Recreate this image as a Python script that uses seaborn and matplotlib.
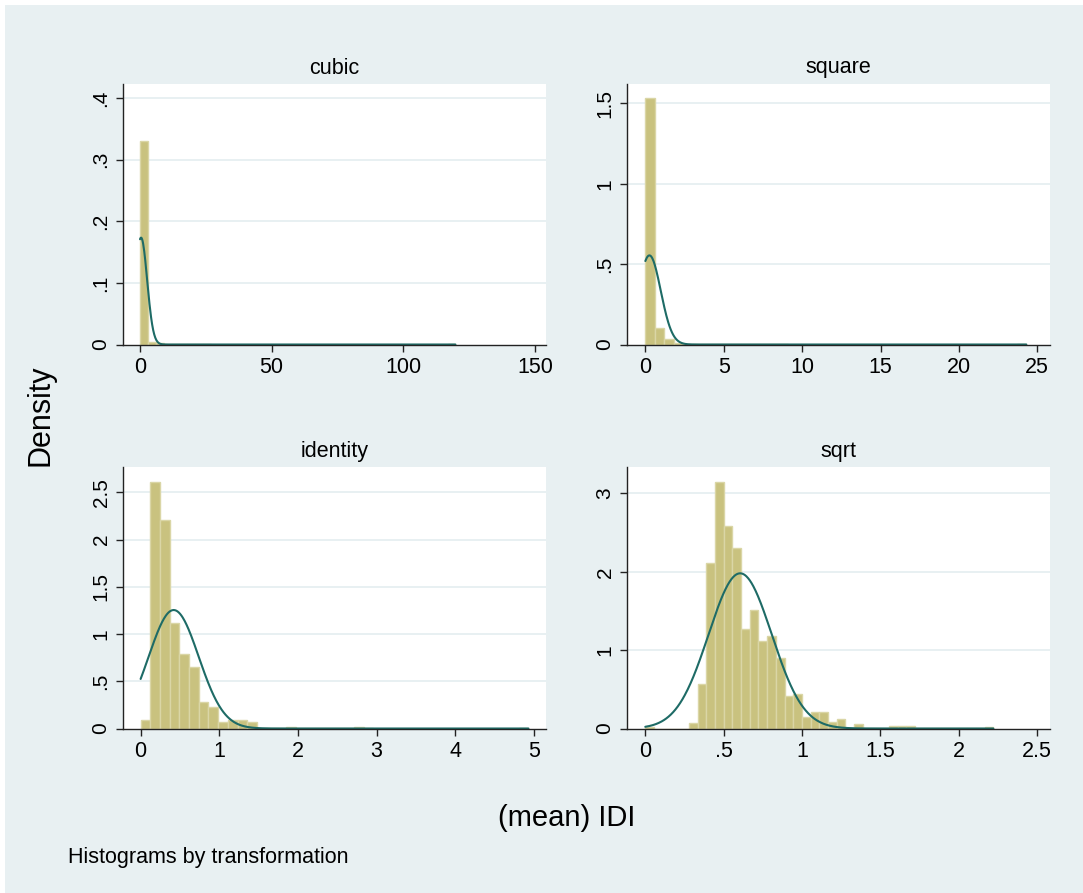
import numpy as np
import pandas as pd
import matplotlib
matplotlib.use("Agg")
import matplotlib.pyplot as plt
import matplotlib.ticker as mticker
import seaborn as sns

# ---------------------------------------------------------------------------
# Data (40 bins per transformation, density scale)
# ---------------------------------------------------------------------------
panels = ["cubic", "square", "identity", "sqrt"]

cubic_range = (0.0, 119.8)
cubic_heights = [0.330, 0.004, 0.002, 0.001, 0.001, 0.001, 0.001, 0.001, 0.001] + [0.0] * 30 + [0.001]

square_range = (0.0, 24.3)
square_heights = [1.531, 0.0996, 0.035, 0.012, 0.005, 0.003, 0.003, 0.002, 0.002,
                  0.002, 0.002, 0.002, 0.002, 0.002, 0.002] + [0.0] * 24 + [0.002]

identity_range = (0.0, 4.93)
identity_heights = [0.088, 2.606, 2.210, 1.114, 0.789, 0.654, 0.276, 0.230, 0.071,
                    0.088, 0.088, 0.071, 0.006, 0.006, 0.006, 0.018, 0.006, 0.004,
                    0.004, 0.004, 0.004, 0.004, 0.016, 0.004] + [0.0] * 15 + [0.006]

sqrt_range = (0.0, 2.22)
sqrt_heights = [0.020, 0.0, 0.0, 0.0, 0.0, 0.064, 0.567, 2.110, 3.145, 2.580,
                2.310, 1.270, 1.510, 1.116, 1.180, 0.903, 0.413, 0.439, 0.145, 0.213,
                0.213, 0.085, 0.119, 0.010, 0.055, 0.010, 0.008, 0.008, 0.034, 0.038,
                0.034, 0.005, 0.005, 0.005, 0.005, 0.005, 0.005, 0.005, 0.005, 0.013]

# normal overlay: mean, sd
normal_params = {
    "cubic": (0.40, 2.30),
    "square": (0.26, 0.72),
    "identity": (0.42, 0.318),
    "sqrt": (0.605, 0.2014),
}

x_ticks = {
    "cubic": [0, 50, 100, 150],
    "square": [0, 5, 10, 15, 20, 25],
    "identity": [0, 1, 2, 3, 4, 5],
    "sqrt": [0, 0.5, 1, 1.5, 2, 2.5],
}
y_ticks = {
    "cubic": [0, 0.1, 0.2, 0.3, 0.4],
    "square": [0, 0.5, 1, 1.5],
    "identity": [0, 0.5, 1, 1.5, 2, 2.5],
    "sqrt": [0, 1, 2, 3],
}

# ---------------------------------------------------------------------------
# Styling / layout (pixel boxes of the plot regions)
# ---------------------------------------------------------------------------
W, H = 1083, 893
BG = "#E8F0F2"
GRID = "#E4EDF0"
BAR = "#C9C27F"
BAR_EDGE = "#DAD6A6"
CURVE = "#1E6B66"

boxes = {
    "cubic": (123, 84, 546, 344.5),
    "square": (627, 84, 1050, 344.5),
    "identity": (123, 467, 546, 728.5),
    "sqrt": (627, 467, 1050, 728.5),
}
xlims = {
    "cubic": (-6.46, 154.2),
    "square": (-1.17, 25.81),
    "identity": (-0.224, 5.153),
    "sqrt": (-0.1166, 2.581),
}
ylims = {
    "cubic": (0, 0.4228),
    "square": (0, 1.62),
    "identity": (0, 2.769),
    "sqrt": (0, 3.338),
}

data = {
    "cubic": (cubic_range, cubic_heights),
    "square": (square_range, square_heights),
    "identity": (identity_range, identity_heights),
    "sqrt": (sqrt_range, sqrt_heights),
}

sns.set_theme(style="white")
plt.rcParams["font.family"] = ["Liberation Sans", "DejaVu Sans"]
plt.rcParams["text.color"] = "black"
plt.rcParams["xtick.color"] = "black"
plt.rcParams["ytick.color"] = "black"


def stata_fmt(v, pos=None):
    s = f"{v:g}"
    if s.startswith("0."):
        s = s[1:]
    return s


fig = plt.figure(figsize=(W / 100, H / 100), dpi=100)
fig.patch.set_facecolor("white")
fig.patches.append(plt.Rectangle((5 / W, 0), 1 - 5 / W, 1 - 5 / H,
                                 transform=fig.transFigure, facecolor=BG,
                                 edgecolor="none", zorder=-10))

for name in panels:
    x0, y0, x1, y1 = boxes[name]
    ax = fig.add_axes([x0 / W, 1 - y1 / H, (x1 - x0) / W, (y1 - y0) / H])
    ax.set_facecolor("white")

    (lo, hi), heights = data[name]
    edges = [float(e) for e in np.linspace(lo, hi, len(heights) + 1)]
    centers = [(a + b) / 2 for a, b in zip(edges[:-1], edges[1:])]
    df = pd.DataFrame({"x": centers, "h": heights})
    sns.histplot(data=df, x="x", weights="h", bins=edges, stat="count",
                 color=BAR, edgecolor=BAR_EDGE, linewidth=1.0, alpha=1.0, ax=ax)

    mu, sd = normal_params[name]
    xs = np.linspace(lo, hi, 600)
    dens = np.exp(-0.5 * ((xs - mu) / sd) ** 2) / (sd * np.sqrt(2 * np.pi))
    sns.lineplot(x=xs, y=dens, color=CURVE, linewidth=1.5, ax=ax)

    ax.set_xlim(*xlims[name])
    ax.set_ylim(*ylims[name])
    ax.set_xticks(x_ticks[name])
    ax.set_yticks(y_ticks[name])
    ax.xaxis.set_major_formatter(mticker.FuncFormatter(stata_fmt))
    ax.yaxis.set_major_formatter(mticker.FuncFormatter(stata_fmt))
    for t in y_ticks[name][1:]:
        if t < ylims[name][1] * 0.97:
            ax.axhline(t, color=GRID, linewidth=1.2, zorder=0)
    ax.set_axisbelow(True)
    ax.set_xlabel("")
    ax.set_ylabel("")
    ax.tick_params(axis="both", direction="out", length=5, width=1,
                   color="#222222", pad=4, bottom=True, left=True)
    ax.tick_params(axis="x", labelsize=15.5)
    ax.tick_params(axis="y", labelsize=15)
    for lab in ax.get_yticklabels():
        lab.set_rotation(90)
        lab.set_va("center")
    for side in ["top", "right"]:
        ax.spines[side].set_visible(False)
    for side in ["left", "bottom"]:
        ax.spines[side].set_color("#222222")
        ax.spines[side].set_linewidth(1.0)

    cx = (x0 + x1) / 2
    fig.text(cx / W, 1 - (y0 - 16) / H, name, ha="center", va="center", fontsize=15.5)

fig.text(40 / W, 1 - 415 / H, "Density", rotation=90, ha="center", va="center", fontsize=22)
fig.text(567 / W, 1 - 818 / H, "(mean) IDI", ha="center", va="center", fontsize=21)
fig.text(68 / W, 1 - 858 / H, "Histograms by transformation", ha="left", va="center", fontsize=15.5)

fig.savefig("out.png", dpi=100, facecolor=fig.get_facecolor())
